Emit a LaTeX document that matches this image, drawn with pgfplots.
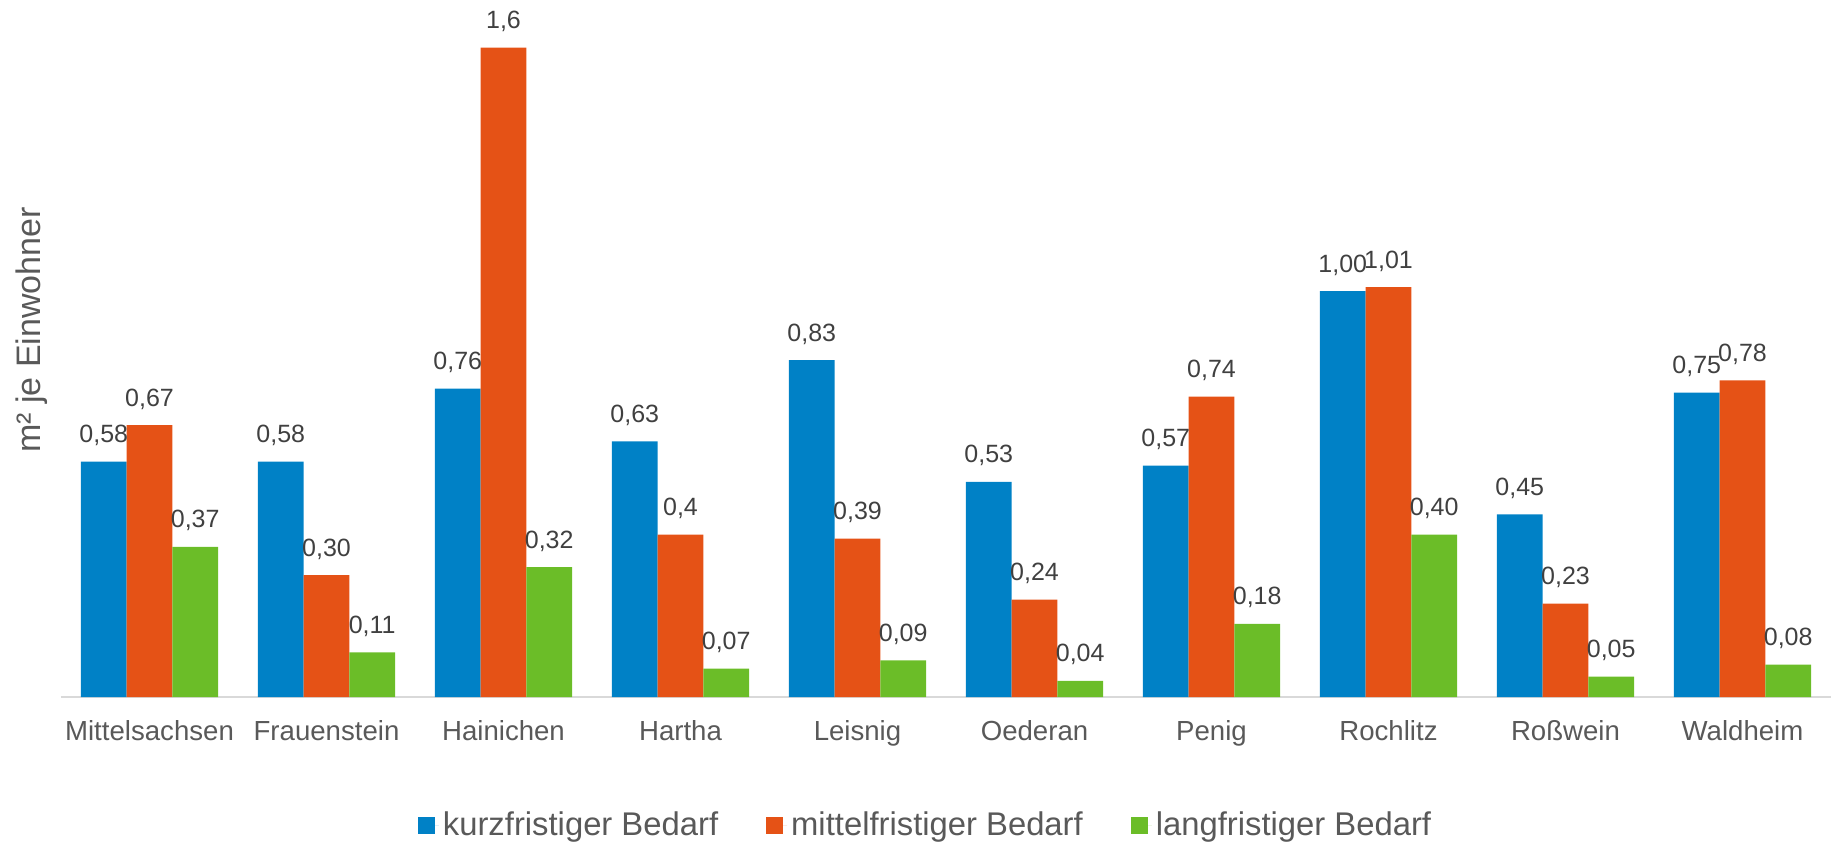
\documentclass[border=0pt]{standalone}
\usepackage{fontspec}
\setmainfont{Liberation Sans}
\usepackage{pgfplots}
\usepackage{pgfplotstable}
\pgfplotsset{compat=1.18}

\definecolor{kurz}{HTML}{0081C6}
\definecolor{mittel}{HTML}{E55216}
\definecolor{lang}{HTML}{6BBD28}
\definecolor{txt}{HTML}{595959}
\definecolor{lbl}{HTML}{404040}

% x: 0 Mittelsachsen ... 9 Waldheim
\pgfplotstableread{
x  k     kl    m     ml    l     ll
0  0.58  0,58  0.67  0,67  0.37  0,37
1  0.58  0,58  0.30  0,30  0.11  0,11
2  0.76  0,76  1.60  1,6   0.32  0,32
3  0.63  0,63  0.40  0,4   0.07  0,07
4  0.83  0,83  0.39  0,39  0.09  0,09
5  0.53  0,53  0.24  0,24  0.04  0,04
6  0.57  0,57  0.74  0,74  0.18  0,18
7  1.00  1,00  1.01  1,01  0.40  0,40
8  0.45  0,45  0.23  0,23  0.05  0,05
9  0.75  0,75  0.78  0,78  0.08  0,08
}\datatable

\begin{document}
\begin{tikzpicture}
\path[use as bounding box] (-30.5pt,-75pt) rectangle (887.5pt,348.5pt);
\begin{axis}[
    at={(0,0)}, anchor=south west,
    width=885pt, height=345pt, scale only axis,
    ybar=0pt, bar width=22.85pt,
    xmin=-0.5, xmax=9.5, ymin=0, ymax=1.7,
    enlarge x limits=false,
    axis y line*=left,
    y axis line style={draw=none},
    ytick=\empty,
    axis x line*=bottom,
    x axis line style={draw=black!15, line width=1pt, -},
    xtick=data,
    xticklabels={Mittelsachsen,Frauenstein,Hainichen,Hartha,Leisnig,Oederan,Penig,Rochlitz,Roßwein,Waldheim},
    major tick length=0pt,
    xticklabel style={font=\fontsize{13.8}{16}\selectfont, text=txt, anchor=base, yshift=-21.5pt},
    ylabel={m² je Einwohner},
    ylabel style={font=\fontsize{17}{20}\selectfont, text=txt, at={(rel axis cs:-0.0164,0.532)}, anchor=center},
    clip=false,
    nodes near coords,
    point meta=explicit symbolic,
    every node near coord/.append style={font=\fontsize{12.5}{15}\selectfont, text=lbl, anchor=base, yshift=9.5pt, inner sep=0pt},
    legend columns=-1,
    legend style={at={(0.489,-0.1855)}, anchor=center, draw=none, fill=none,
        font=\fontsize{16.4}{19}\selectfont, text=txt,
        /tikz/every even column/.append style={column sep=22pt}},
    legend image code/.code={\fill[#1] (0pt,-4.25pt) rectangle (8.5pt,4.25pt); \path (8.5pt,0pt) -- (10.5pt,0pt);},
]
\addplot[fill=kurz, draw=none] table[x=x, y=k, meta=kl] {\datatable};
\addlegendentry{kurzfristiger Bedarf}
\addplot[fill=mittel, draw=none] table[x=x, y=m, meta=ml] {\datatable};
\addlegendentry{mittelfristiger Bedarf}
\addplot[fill=lang, draw=none] table[x=x, y=l, meta=ll] {\datatable};
\addlegendentry{langfristiger Bedarf}
\end{axis}
\end{tikzpicture}
\end{document}
